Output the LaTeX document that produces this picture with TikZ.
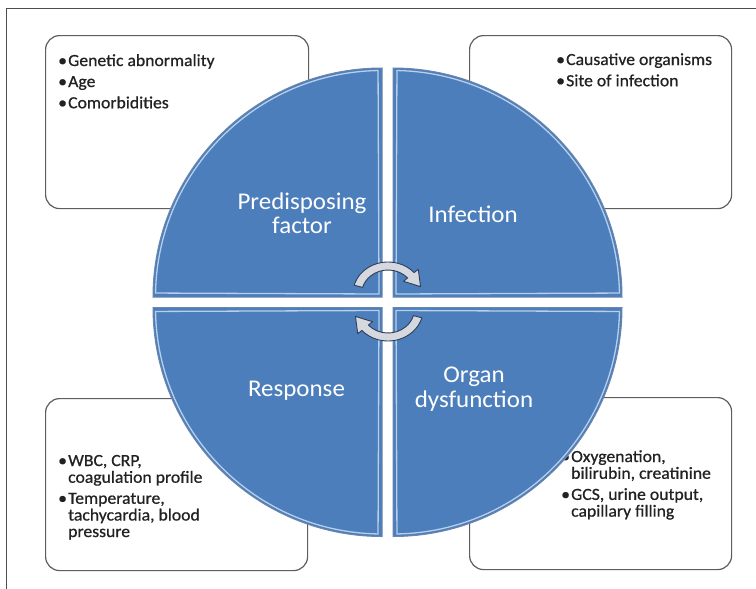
\documentclass[tikz,border=0pt]{standalone}
\usepackage{fontspec}
\setmainfont{Carlito}[FakeStretch=1.04]
\newfontfamily\boxfont{Carlito}[FakeStretch=1.04, FakeBold=0.7]
\definecolor{qblue}{HTML}{4C7EBB}
\definecolor{qedge}{HTML}{6A86AC}
\definecolor{qrim}{HTML}{B7CFEC}
\definecolor{boxline}{HTML}{5E5E5E}
\definecolor{txt}{HTML}{222222}
\definecolor{framec}{HTML}{4D4D4D}
\definecolor{arrfill}{HTML}{D5D9DF}
\definecolor{arredge}{HTML}{2E3D58}
\newcommand\bul{\makebox[10pt][l]{•}}
\newcommand\igap{\\[4.5pt]}
\begin{document}
\begin{tikzpicture}[x=1pt,y=-1pt,
  panel/.style={draw=boxline, line width=1.2pt, rounded corners=14pt, fill=white,
    inner sep=0pt, anchor=north west},
  itemtext/.style={font=\boxfont\fontsize{17}{16.5}\selectfont, text=txt, inner sep=0pt, anchor=base west},
  lbl/.style={font=\fontsize{24}{24.5}\selectfont, text=white, inner sep=0pt, anchor=base},
  quad/.style={fill=qblue, draw=qedge, line width=1pt},
  rim/.style={draw=qrim, line width=1.3pt},
  cyclearrow/.style={fill=arrfill, draw=arredge, line width=0.9pt, line join=round}]
\useasboundingbox (0,0) rectangle (756,589);
\fill[white] (0,0) rectangle (756,589);

% frame lines
\coordinate (f0) at (6.5,8.5);
\coordinate (f1) at (756,8.5);
\coordinate (f2) at (6.5,589);
\draw[framec, line width=1.5pt] (f1) -- (f0) -- (f2);

% information boxes
\node[panel, minimum width=263pt, minimum height=173pt] (boxTL) at (45,35) {};
\node[panel, minimum width=262pt, minimum height=173pt] (boxTR) at (469,35) {};
\node[panel, minimum width=262pt, minimum height=172pt] (boxBL) at (45,398) {};
\node[panel, minimum width=262pt, minimum height=172pt] (boxBR) at (469,397) {};

\node[itemtext] (txtTL) at (58,66) {\begin{tabular}[t]{@{}l@{}l@{}}
\bul & Genetic abnormality\igap
\bul & Age\igap
\bul & Comorbidities\end{tabular}};
\node[itemtext] (txtTR) at (556,65) {\begin{tabular}[t]{@{}l@{}l@{}}
\bul & Causative organisms\igap
\bul & Site of infection\end{tabular}};
\node[itemtext] (txtBL) at (58,466) {\begin{tabular}[t]{@{}l@{}l@{}}
\bul & WBC, CRP,\\
     & coagulation profile\igap
\bul & Temperature,\\
     & tachycardia, blood\\
     & pressure\end{tabular}};
\node[itemtext] (txtBR) at (561,462) {\begin{tabular}[t]{@{}l@{}l@{}}
\bul & Oxygenation,\\
     & bilirubin, creatinine\igap
\bul & GCS, urine output,\\
     & capillary filling\end{tabular}};

% the four quadrants of the cycle
\coordinate (cTL) at (382,297);
\coordinate (cTR) at (393,297);
\coordinate (cBL) at (382,307.5);
\coordinate (cBR) at (393,307.5);
\def\R{229}
\def\r{226.5}
\draw[quad] (cTL) -- ++(180:\R) arc[start angle=180, end angle=270, radius=\R] -- cycle;
\draw[quad] (cTR) -- ++(270:\R) arc[start angle=270, end angle=360, radius=\R] -- cycle;
\draw[quad] (cBR) -- ++(0:\R) arc[start angle=0, end angle=90, radius=\R] -- cycle;
\draw[quad] (cBL) -- ++(90:\R) arc[start angle=90, end angle=180, radius=\R] -- cycle;
\draw[rim] ([shift={(181:\r)}]cTL) arc[start angle=181, end angle=269, radius=\r]
  -- ([shift={(-3,-3)}]cTL) -- cycle;
\draw[rim] ([shift={(271:\r)}]cTR) arc[start angle=271, end angle=359, radius=\r]
  -- ([shift={(3,-3)}]cTR) -- cycle;
\draw[rim] ([shift={(1:\r)}]cBR) arc[start angle=1, end angle=89, radius=\r]
  -- ([shift={(3,3)}]cBR) -- cycle;
\draw[rim] ([shift={(91:\r)}]cBL) arc[start angle=91, end angle=179, radius=\r]
  -- ([shift={(-3,3)}]cBL) -- cycle;

% quadrant titles
\node[lbl] (lPre) at (302,209) {\begin{tabular}[t]{@{}c@{}}Predisposing\\factor\end{tabular}};
\node[lbl] (lInf) at (473,222) {Infection};
\node[lbl] (lRes) at (296.5,396) {Response};
\node[lbl] (lOrg) at (474,382.5) {\begin{tabular}[t]{@{}c@{}}Organ\\dysfunction\end{tabular}};

% circular arrows in the centre
\begin{scope}[shift={(388,294)}, xscale=1.1]
\draw[cyclearrow] (196:32) arc[start angle=196, end angle=318, radius=32]
  -- (318:37) -- (346:30.5) -- (318:19) -- (318:24)
  arc[start angle=318, end angle=196, radius=24] -- cycle;
\end{scope}
\begin{scope}[shift={(388,309)}, xscale=1.1, rotate=180]
\draw[cyclearrow] (196:32) arc[start angle=196, end angle=318, radius=32]
  -- (318:37) -- (346:30.5) -- (318:19) -- (318:24)
  arc[start angle=318, end angle=196, radius=24] -- cycle;
\end{scope}
\end{tikzpicture}
\end{document}
